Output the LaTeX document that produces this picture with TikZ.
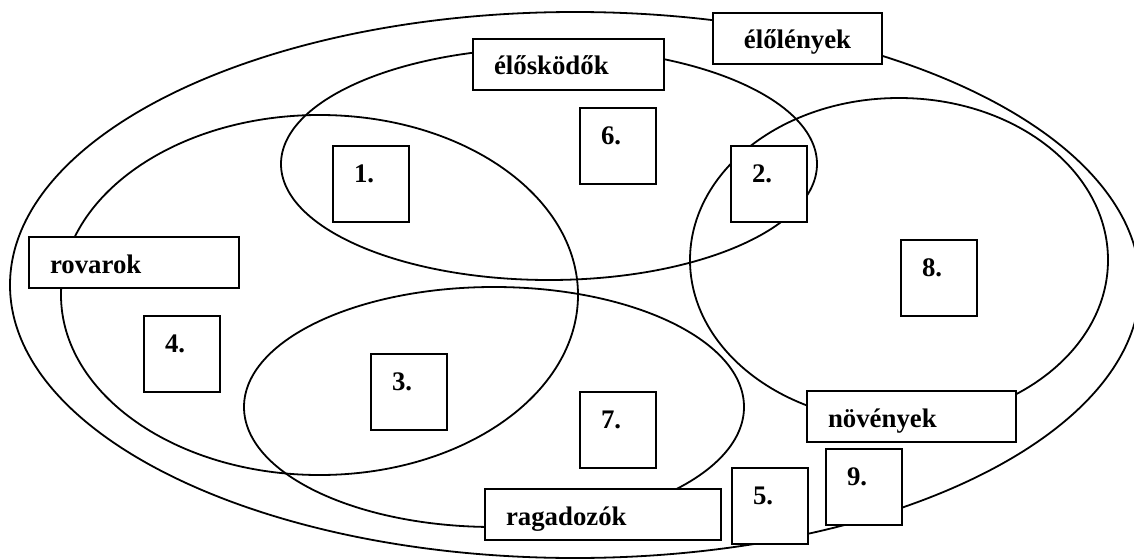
\documentclass[tikz,border=0pt]{standalone}
\usepackage{fontspec}
\setmainfont{Liberation Serif}
\begin{document}
\begin{tikzpicture}[x=1pt,y=-1pt,
  ell/.style={line width=1.8pt},
  box/.style={draw, fill=white, line width=2pt, inner xsep=21pt, inner ysep=0pt,
    anchor=north west, align=left, text height=36pt,
    font=\fontsize{26.8}{30}\selectfont\bfseries},
  numbox/.style={box, text width=34pt, text depth=40pt},
  lblbox/.style={box, text width=#1, text depth=15pt}
]
\useasboundingbox (0,0) rectangle (1134,559);
% sets
\draw[ell] (575,285) ellipse [x radius=565pt, y radius=273pt];
\draw[ell] (549,164) ellipse [x radius=268pt, y radius=116pt];
\draw[ell] (319.5,295) ellipse [x radius=258.5pt, y radius=180pt];
\draw[ell] (494,407) ellipse [x radius=250pt, y radius=120pt];
\draw[ell] (899,260) ellipse [x radius=209pt, y radius=162pt];
% labels
\node[lblbox=127pt, align=center] (elolenyek) at (712,12) {élőlények};
\node[lblbox=149pt] (eloskodok) at (472,38) {élősködők};
\node[lblbox=168pt] (rovarok) at (28,236) {rovarok};
\node[lblbox=167pt] (novenyek) at (806,390) {növények};
\node[lblbox=194pt] (ragadozok) at (484,488) {ragadozók};
% numbered boxes
\node[numbox] (n1) at (332,145) {1.};
\node[numbox] (n2) at (730,145) {2.};
\node[numbox] (n3) at (370,353) {3.};
\node[numbox] (n4) at (143,315) {4.};
\node[numbox] (n5) at (731,467) {5.};
\node[numbox] (n6) at (579,107) {6.};
\node[numbox] (n7) at (579,391) {7.};
\node[numbox] (n8) at (900,239) {8.};
\node[numbox] (n9) at (825,448) {9.};
\end{tikzpicture}
\end{document}
